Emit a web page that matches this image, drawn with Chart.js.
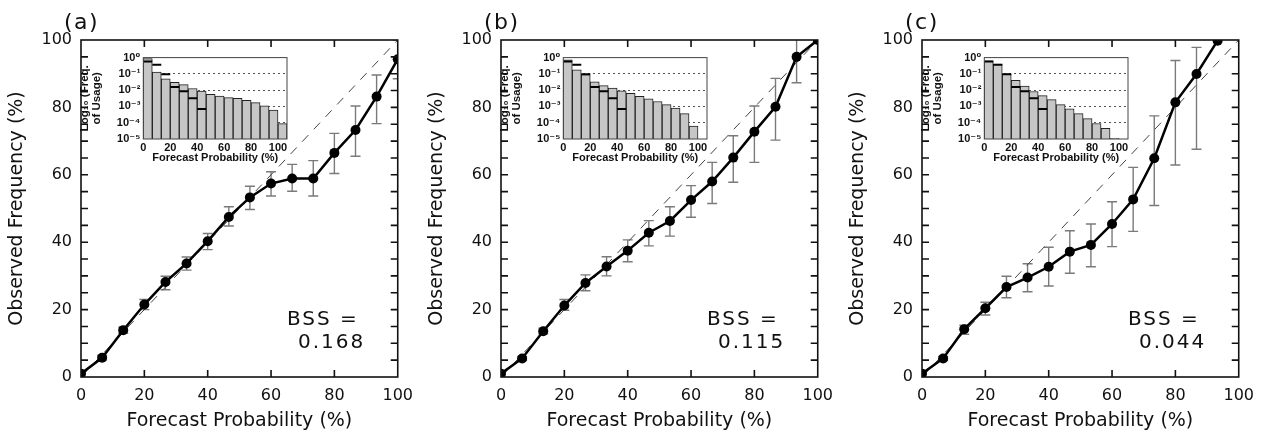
<!DOCTYPE html>
<html>
<head>
<meta charset="utf-8">
<script src="https://cdn.jsdelivr.net/npm/chart.js@4.4.1/dist/chart.umd.min.js"></script>
<style>
  body { margin: 0; background: #fff; }
  #wrap { position: relative; width: 1268px; height: 434px; overflow: hidden; }
  .panel { position: absolute; top: 0; width: 422px; height: 434px; }
  .panel canvas.main { position: absolute; left: 0; top: 0; }
  .panel canvas.inset { position: absolute; left: 78px; top: 48px; }
  .tag { position: absolute; left: 64px; top: 11px; font: 22px "DejaVu Sans"; letter-spacing: 1.5px; line-height: 22px; color: #111; }
  .bss { position: absolute; left: 287px; top: 307px; font: 20px "DejaVu Sans"; letter-spacing: 2px; line-height: 23px; color: #111; }
  .bss div + div { padding-left: 11px; }
</style>
</head>
<body>
<div id="wrap">
  <div class="panel" id="pa"><canvas class="main" width="422" height="434"></canvas><canvas class="inset" width="214" height="122"></canvas>
    <div class="tag">(a)</div><div class="bss"><div>BSS =</div><div>0.168</div></div></div>
  <div class="panel" id="pb" style="left:420px"><canvas class="main" width="422" height="434"></canvas><canvas class="inset" width="214" height="122"></canvas>
    <div class="tag">(b)</div><div class="bss"><div>BSS =</div><div>0.115</div></div></div>
  <div class="panel" id="pc" style="left:841px"><canvas class="main" width="422" height="434"></canvas><canvas class="inset" width="214" height="122"></canvas>
    <div class="tag">(c)</div><div class="bss"><div>BSS =</div><div>0.044</div></div></div>
</div>
<script>
// forecast probability categories (%) - 16 bins, 1/15 steps
const probs = [0, 6.67, 13.33, 20, 26.67, 33.33, 40, 46.67, 53.33, 60, 66.67, 73.33, 80, 86.67, 93.33, 100];
const binWidth = 6.67;

// observed frequency (%) and error bar ends
const obsA = [1.0, 5.7, 13.9, 21.5, 28.2, 33.7, 40.3, 47.5, 53.3, 57.4, 58.9, 58.9, 66.5, 73.3, 83.2, 94.3];
const loA  = [null, 5.0, 13.0, 20.0, 25.9, 31.7, 37.8, 44.8, 49.7, 53.7, 55.1, 53.7, 60.4, 65.5, 75.2, 88.5];
const hiA  = [null, 6.4, 14.8, 23.0, 29.9, 35.6, 42.6, 50.5, 56.6, 60.9, 63.1, 64.2, 72.3, 80.4, 89.6, 100];

const obsB = [1.0, 5.5, 13.6, 21.2, 27.9, 32.8, 37.5, 42.8, 46.3, 52.5, 58.0, 65.1, 72.8, 80.2, 95.0, 100];
const loB  = [null, 4.9, 12.8, 19.8, 25.6, 30.0, 34.2, 38.9, 41.8, 47.4, 51.5, 57.8, 63.7, 70.3, 87.3, null];
const hiB  = [null, 6.1, 14.5, 23.0, 30.3, 35.7, 40.7, 46.4, 50.5, 56.8, 63.7, 71.6, 80.4, 88.6, 104, null];

const obsC = [1.0, 5.5, 14.2, 20.4, 26.7, 29.5, 32.7, 37.2, 39.2, 45.4, 52.7, 64.9, 81.5, 89.9, 99.8];
const loC  = [null, 4.9, 12.7, 18.4, 23.5, 25.3, 27.0, 30.8, 32.7, 38.7, 43.2, 50.9, 62.9, 67.6, null];
const hiC  = [null, 6.1, 15.4, 22.2, 29.9, 33.6, 38.5, 43.4, 45.4, 52.0, 62.2, 77.5, 93.9, 97.8, null];

// frequency of usage (inset histograms)
const usageA = [0.87, 0.13, 0.05, 0.03, 0.022, 0.0126, 0.0087, 0.0055, 0.0044, 0.0035, 0.0032, 0.0024, 0.0017, 0.0011, 0.0006, 0.000087];
const usageB = [0.72, 0.18, 0.091, 0.033, 0.019, 0.0135, 0.009, 0.0063, 0.0042, 0.0029, 0.002, 0.0013, 0.0008, 0.00036, 0.000063, null];
const usageC = [0.63, 0.4, 0.1, 0.04, 0.018, 0.0083, 0.0046, 0.0026, 0.0013, 0.00072, 0.00036, 0.00018, 0.00009, 0.000046, 0.000011, null];
// black bars (reference usage), first 7 bins
const usageRef = [0.58, 0.37, 0.096, 0.0155, 0.0085, 0.0032, 0.0007];

const insetTicks = [1e-5, 1e-4, 1e-3, 1e-2, 1e-1, 1];
const insetLabels = ['10⁻⁵', '10⁻⁴', '10⁻³', '10⁻²', '10⁻¹', '10⁰'];

Chart.defaults.font.family = '"DejaVu Sans"';
Chart.defaults.color = '#111';

const insetFont = '"Liberation Sans", "DejaVu Sans"';

// box around the plot with inward ticks
const frame = {
  id: 'frame',
  beforeDraw(chart, args, opts) {
    if (!opts.fill) return;
    const a = chart.chartArea;
    chart.ctx.save();
    chart.ctx.fillStyle = opts.fill;
    chart.ctx.fillRect(a.left, a.top, a.width, a.height);
    chart.ctx.restore();
  },
  afterDatasetsDraw(chart, args, opts) {
    const {ctx, chartArea: a, scales: {x, y}} = chart;
    ctx.save();
    ctx.strokeStyle = opts.color;
    ctx.lineWidth = opts.width;
    ctx.beginPath();
    (opts.xTicks || []).forEach(v => {
      const px = x.getPixelForValue(v);
      ctx.moveTo(px, a.bottom); ctx.lineTo(px, a.bottom - opts.len);
      ctx.moveTo(px, a.top); ctx.lineTo(px, a.top + opts.len);
    });
    (opts.yTicks || []).forEach(v => {
      const py = y.getPixelForValue(v);
      ctx.moveTo(a.left, py); ctx.lineTo(a.left + opts.len, py);
      ctx.moveTo(a.right, py); ctx.lineTo(a.right - opts.len, py);
    });
    ctx.stroke();
    ctx.strokeRect(a.left, a.top, a.width, a.height);
    ctx.restore();
  }
};

// vertical error bars with caps, from errLo / errHi of a dataset
const errorBars = {
  id: 'errorBars',
  beforeDatasetsDraw(chart) {
    const {ctx, chartArea: a, scales: {x, y}} = chart;
    ctx.save();
    ctx.beginPath();
    ctx.rect(a.left, a.top, a.width, a.height);
    ctx.clip();
    ctx.strokeStyle = '#7a7a7a';
    ctx.lineWidth = 1.4;
    chart.data.datasets.forEach(ds => {
      if (!ds.errLo) return;
      ds.data.forEach((p, i) => {
        const lo = ds.errLo[i], hi = ds.errHi[i];
        if (lo == null || hi == null) return;
        const px = x.getPixelForValue(p.x);
        const y0 = y.getPixelForValue(lo), y1 = y.getPixelForValue(hi);
        ctx.beginPath();
        ctx.moveTo(px, y0); ctx.lineTo(px, y1);
        ctx.moveTo(px - 5, y0); ctx.lineTo(px + 5, y0);
        ctx.moveTo(px - 5, y1); ctx.lineTo(px + 5, y1);
        ctx.stroke();
      });
    });
    ctx.restore();
  }
};

function mainChart(canvas, obs, lo, hi) {
  return new Chart(canvas, {
    type: 'line',
    data: {
      // first dataset is drawn on top
      datasets: [{
        data: obs.map((v, i) => ({x: probs[i], y: v})),
        errLo: lo,
        errHi: hi,
        borderColor: '#000',
        borderWidth: 2.5,
        pointRadius: 5,
        pointBackgroundColor: '#000',
        pointBorderWidth: 0
      }, {
        data: [{x: 0, y: 0}, {x: 100, y: 100}],
        borderColor: '#444',
        borderWidth: 1,
        borderDash: [9, 8],
        pointRadius: 0
      }]
    },
    options: {
      responsive: false,
      animation: false,
      layout: {padding: {left: 0, top: 40, right: 24, bottom: 0}},
      plugins: {
        legend: {display: false},
        tooltip: {enabled: false},
        frame: {color: '#111', width: 1.6, len: 7, xTicks: [20, 40, 60, 80],
                yTicks: [5, 10, 15, 20, 25, 30, 35, 40, 45, 50, 55, 60, 65, 70, 75, 80, 85, 90, 95]}
      },
      scales: {
        x: {
          type: 'linear', min: 0, max: 100,
          grid: {display: false, drawTicks: false}, border: {display: false},
          ticks: {stepSize: 20, padding: 9, font: {size: 16}, maxRotation: 0},
          title: {display: true, text: 'Forecast Probability (%)', font: {size: 19}, padding: {top: 0, bottom: 2}},
          afterFit: s => { s.height = 57; }
        },
        y: {
          type: 'linear', min: 0, max: 100,
          grid: {display: false, drawTicks: false}, border: {display: false},
          ticks: {stepSize: 20, padding: 9, font: {size: 16}},
          title: {display: true, text: 'Observed Frequency (%)', font: {size: 19}, padding: {top: 6, bottom: 6}},
          afterFit: s => { s.width = 81; }
        }
      }
    },
    plugins: [errorBars, frame]
  });
}

function insetChart(canvas, usage) {
  const bars = [];
  usage.forEach((v, i) => {
    if (v != null) bars.push({x: probs[i] + binWidth / 2, y: [1e-5, v]});
  });
  const ref = [];
  usageRef.forEach((v, i) => {
    ref.push({x: probs[i], y: v}, {x: probs[i] + binWidth, y: v}, {x: probs[i] + binWidth, y: null});
  });
  return new Chart(canvas, {
    type: 'bar',
    data: {
      datasets: [{
        type: 'line',
        data: ref,
        borderColor: '#000',
        borderWidth: 2,
        pointRadius: 0,
        spanGaps: false
      }, {
        type: 'bar',
        data: bars,
        backgroundColor: '#c6c6c6',
        borderColor: '#222',
        borderWidth: 1,
        borderSkipped: 'start',
        barPercentage: 1,
        categoryPercentage: 1
      }]
    },
    options: {
      responsive: false,
      animation: false,
      layout: {padding: {left: 0, top: 7.6, right: 5, bottom: 0}},
      plugins: {
        legend: {display: false},
        tooltip: {enabled: false},
        frame: {color: '#444', width: 1, len: 0, fill: '#fff'}
      },
      scales: {
        x: {
          type: 'linear', min: 0, max: 106.67, offset: false,
          grid: {display: false, drawTicks: false}, border: {display: false},
          ticks: {stepSize: 20, includeBounds: false, padding: 2, maxRotation: 0,
                  font: {family: insetFont, size: 11, weight: 'bold'}},
          title: {display: true, text: 'Forecast Probability (%)', padding: {top: 0, bottom: 5},
                  font: {family: insetFont, size: 11, weight: 'bold'}},
          afterFit: s => { s.height = 31; }
        },
        y: {
          type: 'logarithmic', min: 1e-5, max: 1,
          grid: {drawTicks: false, lineWidth: 1,
                 color: c => (c.tick && c.tick.value > 2e-5 && c.tick.value < 0.5) ? '#555' : 'rgba(0,0,0,0)'},
          border: {display: false, dash: [2, 3]},
          afterBuildTicks: s => { s.ticks = insetTicks.map(v => ({value: v})); },
          ticks: {padding: 3, autoSkip: false,
                  font: {family: insetFont, size: 11, weight: 'bold'},
                  callback: v => insetLabels[insetTicks.indexOf(v)]},
          title: {display: true, text: ['Log₁₀ (Freq.', 'of Usage)'], padding: {top: 1.5, bottom: 1.5},
                  font: {family: insetFont, size: 11.5, weight: 'bold', lineHeight: 0.98}},
          afterFit: s => { s.width = 65.3; }
        }
      }
    },
    plugins: [frame]
  });
}

[['pa', obsA, loA, hiA, usageA], ['pb', obsB, loB, hiB, usageB], ['pc', obsC, loC, hiC, usageC]].forEach(p => {
  const el = document.getElementById(p[0]);
  mainChart(el.querySelector('canvas.main'), p[1], p[2], p[3]);
  insetChart(el.querySelector('canvas.inset'), p[4]);
});
</script>
</body>
</html>
